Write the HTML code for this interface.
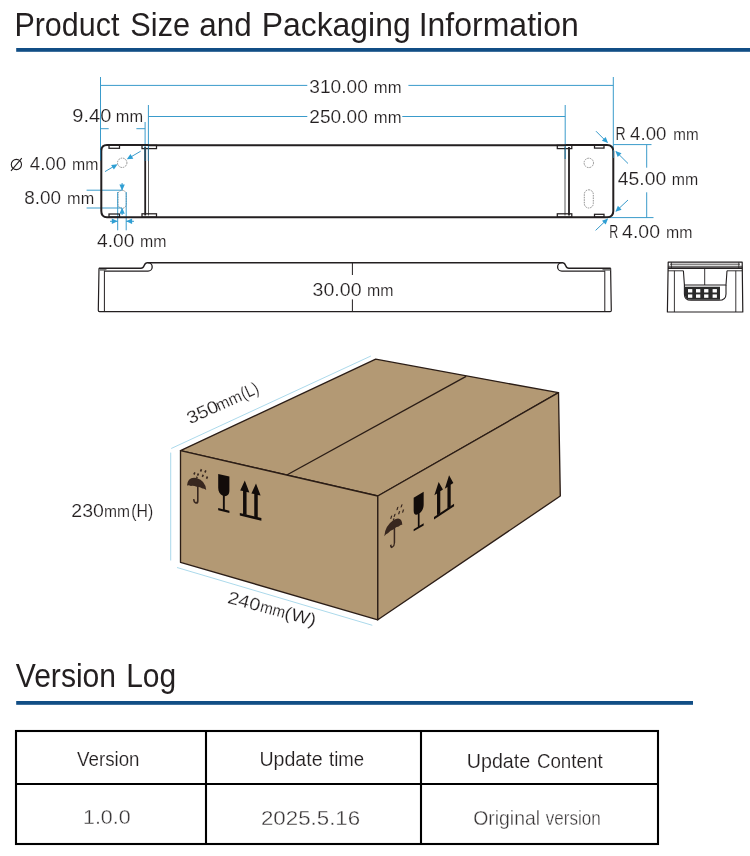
<!DOCTYPE html>
<html>
<head>
<meta charset="utf-8">
<title>Product Size and Packaging Information</title>
<style>
html,body{margin:0;padding:0;background:#fff;}
body{width:750px;height:856px;overflow:hidden;font-family:"Liberation Sans",sans-serif;}
svg{display:block;will-change:transform;}
text{font-family:"Liberation Sans",sans-serif;fill:#231f20;}
.dim{stroke:#3a9bcb;stroke-width:1;fill:none;}
.ah{fill:#2f9fd4;stroke:none;}
.hk{stroke:#231f20;fill:none;}
.thin{stroke:#fff;stroke-width:0.16;}
.h{font-size:33px;}
</style>
</head>
<body>
<svg width="750" height="856" viewBox="0 0 750 856">
<rect width="750" height="856" fill="#fff"/>

<!-- ===== Titles ===== -->
<rect x="16.2" y="48" width="733.8" height="3.8" fill="#114e85"/>

<rect x="16.2" y="701" width="676.8" height="3.8" fill="#114e85"/>

<!-- holes -->
<g fill="none" stroke="#777" stroke-width="0.8" stroke-dasharray="1.6 0.9">
<circle cx="122.2" cy="162.8" r="4.7"/>
<rect x="117.9" y="190.3" width="8.4" height="18" rx="4.2"/>
<circle cx="588.8" cy="162.9" r="4.7"/>
<rect x="584.3" y="189.8" width="9" height="18.2" rx="4.5"/>
</g>
<!-- ===== DIMENSIONS (top view) ===== -->
<g class="dim">
<!-- 310 -->
<path d="M100.5 77 V160.5 M613.3 77 V158 M100.5 85.4 H307.3 M408.4 85.4 H613.3"/>
<!-- 250 -->
<path d="M148.4 105 V161 M565.2 105 V159 M148.4 116.5 H307.3 M402.3 116.5 H565.2"/>
<!-- 9.40 -->
<path d="M145.1 122 V161 M100.5 128.7 H108.7 M136.4 128.7 H145.1"/>
<!-- dia 4 -->
<path d="M105 171.6 L116 165.1 M140.7 151.2 L128.4 158.4"/>
<!-- 8.00 -->
<path d="M86.6 190.2 H122 M86.6 208 H122 M122.1 183 V190 M122.1 208.3 V215"/>
<!-- 4.00 slot -->
<path d="M117.7 192 V230.3 M126.2 192 V230.3 M110 221.3 H117.7 M126.2 221.3 H134"/>
<!-- 45 -->
<path d="M613.3 144.6 H651.5 M607 217.6 H653.5 M646.7 144.6 V167.7 M646.7 192.3 V217.6"/>
<!-- R4 -->
<path d="M596 131.2 L607.2 142.4 M628 163.5 L616 151.6 M628 200 L616 211.2 M595.6 230.4 L607.3 219.2"/>
</g>
<!-- ===== TOP VIEW ===== -->
<g id="topview">
<!-- main body -->
<path class="hk" stroke-width="1.9" d="M148 145.2 H566 M148 217.2 H566"/>
<!-- left cap -->
<path class="hk" stroke-width="2" d="M148 145 H107 Q101.3 145 101.3 151 V211 Q101.3 217.3 107 217.3 H148"/>
<!-- right cap -->
<path class="hk" stroke-width="2" d="M566 145 H607 Q613.3 145 613.3 151.5 V211 Q613.3 217.3 607 217.3 H566"/>
<!-- inner verticals -->
<path class="hk" stroke-width="1.8" d="M145.2 147 V215.5 M569 147 V215.5"/>
<path class="hk" stroke-width="0.9" d="M148.5 147 V215.5 M565 147 V215.5" style="stroke:#4a4a4a"/>
<!-- clips -->
<g class="hk" stroke-width="1.25" fill="#f4f4f4">
<rect x="109" y="145.3" width="10.5" height="3"/>
<rect x="142" y="145.3" width="14.5" height="3.3"/>
<rect x="109" y="214" width="10.5" height="3"/>
<rect x="142" y="213.8" width="14.5" height="3.3"/>
<rect x="557.3" y="145.3" width="14.5" height="3.3"/>
<rect x="594.5" y="145.3" width="9.5" height="2.8"/>
<rect x="557.3" y="213.8" width="14.5" height="3.3"/>
<rect x="594.5" y="214.3" width="9.5" height="2.8"/>
</g>

</g>

<path d="M145.1 146.3 V161 M148.4 146.3 V161 M565.2 146.3 V159 M100.6 150 V160.5 M613.4 150 V158" stroke="#2f86b3" stroke-width="1" fill="none" opacity="0.75"/>
<g class="ah">
<polygon points="117.6,164.2 113.9,169.5 111.1,164.9"/>
<polygon points="126.8,159.3 130.5,154.0 133.3,158.7"/>
<polygon points="122.1,190.4 119.4,184.5 124.8,184.5"/>
<polygon points="122.1,207.8 124.8,213.7 119.4,213.7"/>
<polygon points="117.7,221.3 111.8,224.0 111.8,218.6"/>
<polygon points="126.2,221.3 132.1,218.6 132.1,224.0"/>
<polygon points="608.0,143.0 601.9,140.8 605.7,136.9"/>
<polygon points="615.4,151.0 621.5,153.2 617.7,157.1"/>
<polygon points="615.4,211.8 617.9,205.8 621.6,209.7"/>
<polygon points="608.1,218.6 605.7,224.6 602.0,220.7"/>
</g>

<!-- dimension texts -->

<!-- ===== SIDE VIEW ===== -->
<g class="hk" stroke-width="1.2" stroke-linejoin="round">
<!-- outline -->
<path d="M99 268.3 L98.3 310.6 Q98.3 311.7 99.5 311.7 H610.2 Q611.3 311.7 611.3 310.6 L610.6 268.3"/>
<!-- top profile -->
<path d="M98.9 268.3 H141 C145.1 268.3 143.3 262.7 147.4 262.7 H562.4 C566.5 262.7 564.7 268.3 568.8 268.3 H610.7" stroke-width="1.45"/>
<path d="M104.4 271.1 H148 A4.2 4.2 0 0 0 148 262.7 M604.8 271.1 H561.8 A4.2 4.2 0 0 1 561.8 262.7" stroke-width="1.3"/>
<path d="M104.4 269 V311.7 M604.8 269 V311.7" stroke-width="1"/>
<path d="M352.4 262.7 V275 M352.4 299.4 V311.7" stroke-width="1"/>
<path d="M99.2 269.9 H106.5 M602.5 269.9 H610.4" stroke-width="1.6" style="stroke:#777"/>
</g>

<!-- ===== END VIEW ===== -->
<g class="hk" stroke="#2a2a2a" stroke-width="1" stroke-linejoin="round">
<path d="M668.2 262.2 L667.4 312 H742.8 L742.2 262.2 Z" stroke-width="1.2"/>
<path d="M668.2 266.3 H742.2 M671.4 262.2 V268 M738.8 262.2 V268 M670 264.2 H740" stroke-width="0.8"/>
<path d="M668 268.1 H742.4" stroke-width="1.7"/>
<path d="M668 270.8 H683.4 M727 270.8 H742.4" stroke-width="0.9"/>
<path d="M674.4 270.8 V312 M735.8 270.8 V312" stroke-width="0.9"/>
<path d="M683.4 270.8 L684.4 285 H726 L727 270.8" stroke-width="1.1"/>
<path d="M704.7 269 V285" stroke-width="0.9"/>
<path d="M684.4 285 V294 Q684.4 300.3 691 300.3 H719 Q726 300.3 726 294 V285" stroke-width="1.1"/>
</g>
<path d="M684.6 286.8 H720 V299.8 H691 Q684.6 299.8 684.6 293.5 Z" fill="#2a2a2a"/>
<g fill="#fff">
<rect x="688" y="289.1" width="4.3" height="3.4"/><rect x="688" y="294.4" width="4.3" height="3.4"/>
<rect x="696" y="289.1" width="4.3" height="3.4"/><rect x="696" y="294.4" width="4.3" height="3.4"/>
<rect x="704.1" y="289.1" width="4.3" height="3.4"/><rect x="704.1" y="294.4" width="4.3" height="3.4"/>
<rect x="712.6" y="289.1" width="4.3" height="3.4"/><rect x="712.6" y="294.4" width="4.3" height="3.4"/>
</g>

<!-- ===== BOX ===== -->
<g stroke="#2b1d16" stroke-width="1.35" stroke-linejoin="round" fill="#b39974">
<polygon points="180.5,450.6 375.7,359.2 558.5,392.7 377.8,496" fill="#b39974"/>
<polygon points="180.5,450.6 377.8,496 377.8,619.8 180.5,562.3" fill="#b39974"/>
<polygon points="377.8,496 558.5,392.7 560.3,496 377.8,619.8" fill="#b39974"/>
<path d="M286.8 475 L466.1 376.4" fill="none"/>
</g>
<!-- box dims -->
<g stroke="#86c8e2" stroke-width="0.7" fill="none">
<path d="M171.2 448.5 L370.9 356 M170.7 452.6 V560.5 M177 567.5 L372.3 625.3"/>
</g>

<!-- icons -->
<defs>
<g id="ic-u" fill="#38271f" stroke="none">
    <path d="M0 15.6 Q0.6 6.2 9.5 5.7 Q18.6 6.2 19.2 15.6 Q17.4 14.2 15.4 15 Q12.6 13.6 9.6 14.6 Q6.6 13.6 3.8 15 Q1.8 14.2 0 15.6 Z"/>
    <path d="M10.8 13 V28.2 Q10.8 30.8 8.7 30.8 Q6.9 30.8 6.8 27.6" fill="none" stroke="#38271f" stroke-width="1.6"/>
    <g stroke="#38271f" stroke-width="1.5" fill="none">
      <path d="M7.9 0.5 L6.9 2.9 M11.5 0.8 L10.5 3.2 M14.5 -4.1 L13.5 -1.7 M16.3 0.9 L15.3 3.3 M18.9 -4.1 L17.9 -1.7 M20.5 1.7 L19.5 4.1 M10.2 4.4 L9.6 5.8"/>
    </g>
</g>
<g id="ic-g" fill="#120c0a" stroke="none">
    <path d="M31.2 -3.4 H42.4 V10.4 C42.4 14.6 40.6 16.6 37.8 17.3 V30.7 H42.4 V33 H31.2 V30.7 H35.9 V17.3 C33 16.6 31.2 14.6 31.2 10.4 Z"/>
</g>
<g id="ic-a" fill="#120c0a" stroke="none">
    <path d="M57.8 -3 L62.4 7.9 H59.55 V31 H56.05 V7.9 H53.2 Z"/>
    <path d="M69 -2.8 L73.6 8.3 H70.75 V31 H67.25 V8.3 H64.4 Z"/>
    <rect x="52.8" y="30.6" width="21.6" height="2.6"/>
</g>
</defs>
<g transform="matrix(1,0.235,0,1,187,470)"><use href="#ic-u"/><use href="#ic-g"/><use href="#ic-a"/></g>
<use href="#ic-u" transform="matrix(0.9375,-0.589,0,1.05,384.3,519.8)"/>
<use href="#ic-g" transform="matrix(0.893,-0.52,0,0.925,385.8,517)"/>
<use href="#ic-a" transform="matrix(0.93,-0.61,0,0.95,384.9,520.1)"/>

<!-- ===== TABLE ===== -->
<g fill="none" stroke="#000" stroke-width="2.1">
<rect x="16" y="731" width="642" height="113"/>
<path d="M16 784 H658 M206 731 V844 M421 731 V844"/>
</g>
<g fill="none" stroke="#231f20" stroke-width="1.1"><circle cx="16.4" cy="164.5" r="5.1"/><path d="M11 170.8 L21.8 158.2"/></g>
<!-- ===== TEXT ===== -->
<text x="14.39" y="36" font-size="33" textLength="105.01" lengthAdjust="spacingAndGlyphs">Product</text>
<text x="130.36" y="36" font-size="33" textLength="59.77" lengthAdjust="spacingAndGlyphs">Size</text>
<text x="199.31" y="36" font-size="33" textLength="52.39" lengthAdjust="spacingAndGlyphs">and</text>
<text x="261.70" y="36" font-size="33" textLength="148.98" lengthAdjust="spacingAndGlyphs">Packaging</text>
<text x="418.66" y="36" font-size="33" textLength="160.13" lengthAdjust="spacingAndGlyphs">Information</text>
<text x="15.73" y="687.3" font-size="33" textLength="100.37" lengthAdjust="spacingAndGlyphs">Version</text>
<text x="126.15" y="687.3" font-size="33" textLength="49.99" lengthAdjust="spacingAndGlyphs">Log</text>
<text x="309.27" y="92.9" font-size="17.6" textLength="58.51" lengthAdjust="spacingAndGlyphs" class="thin">310.00</text>
<text x="373.89" y="92.9" font-size="16.2" textLength="27.69" lengthAdjust="spacingAndGlyphs" class="thin">mm</text>
<text x="309.37" y="122.5" font-size="17.6" textLength="58.43" lengthAdjust="spacingAndGlyphs" class="thin">250.00</text>
<text x="373.89" y="122.5" font-size="16.2" textLength="27.69" lengthAdjust="spacingAndGlyphs" class="thin">mm</text>
<text x="72.36" y="122" font-size="17.6" textLength="39.04" lengthAdjust="spacingAndGlyphs" class="thin">9.40</text>
<text x="115.89" y="122" font-size="16.2" textLength="27.27" lengthAdjust="spacingAndGlyphs" class="thin">mm</text>
<text x="29.73" y="170.4" font-size="17.6" textLength="36.45" lengthAdjust="spacingAndGlyphs" class="thin">4.00</text>
<text x="72.01" y="170.4" font-size="16.2" textLength="26.35" lengthAdjust="spacingAndGlyphs" class="thin">mm</text>
<text x="24.25" y="203.8" font-size="17.6" textLength="36.87" lengthAdjust="spacingAndGlyphs" class="thin">8.00</text>
<text x="67.14" y="203.8" font-size="16.2" textLength="27.04" lengthAdjust="spacingAndGlyphs" class="thin">mm</text>
<text x="97.10" y="247" font-size="17.6" textLength="37.32" lengthAdjust="spacingAndGlyphs" class="thin">4.00</text>
<text x="140.07" y="247" font-size="16.2" textLength="26.43" lengthAdjust="spacingAndGlyphs" class="thin">mm</text>
<text x="615.53" y="139.6" font-size="17.6" textLength="10.15" lengthAdjust="spacingAndGlyphs" class="thin">R</text>
<text x="630.14" y="139.6" font-size="17.6" textLength="36.32" lengthAdjust="spacingAndGlyphs" class="thin">4.00</text>
<text x="673.25" y="139.6" font-size="16.2" textLength="25.32" lengthAdjust="spacingAndGlyphs" class="thin">mm</text>
<text x="617.86" y="184.8" font-size="17.6" textLength="48.31" lengthAdjust="spacingAndGlyphs" class="thin">45.00</text>
<text x="671.84" y="184.8" font-size="16.2" textLength="26.44" lengthAdjust="spacingAndGlyphs" class="thin">mm</text>
<text x="609.31" y="238.4" font-size="17.6" textLength="8.99" lengthAdjust="spacingAndGlyphs" class="thin">R</text>
<text x="622.09" y="238.4" font-size="17.6" textLength="37.92" lengthAdjust="spacingAndGlyphs" class="thin">4.00</text>
<text x="665.93" y="238.4" font-size="16.2" textLength="26.44" lengthAdjust="spacingAndGlyphs" class="thin">mm</text>
<text x="312.64" y="296" font-size="17.6" textLength="48.92" lengthAdjust="spacingAndGlyphs" class="thin">30.00</text>
<text x="367.07" y="296" font-size="16.2" textLength="26.43" lengthAdjust="spacingAndGlyphs" class="thin">mm</text>
<text x="71.32" y="517" font-size="17.6" textLength="32.56" lengthAdjust="spacingAndGlyphs" class="thin">230</text>
<text x="103.90" y="517" font-size="16.2" textLength="26.00" lengthAdjust="spacingAndGlyphs" class="thin">mm</text>
<text x="131.34" y="517" font-size="17.6" textLength="21.87" lengthAdjust="spacingAndGlyphs" class="thin">(H)</text>
<text x="77.03" y="765.8" font-size="19.6" textLength="62.48" lengthAdjust="spacingAndGlyphs" class="thin">Version</text>
<text x="259.42" y="765.8" font-size="19.8" textLength="63.22" lengthAdjust="spacingAndGlyphs" class="thin">Update</text>
<text x="328.98" y="765.8" font-size="19.8" textLength="35.13" lengthAdjust="spacingAndGlyphs" class="thin">time</text>
<text x="466.75" y="767.7" font-size="19.8" textLength="63.46" lengthAdjust="spacingAndGlyphs" class="thin">Update</text>
<text x="536.89" y="767.7" font-size="19.8" textLength="65.75" lengthAdjust="spacingAndGlyphs" class="thin">Content</text>
<text x="82.99" y="823.8" font-size="20.2" textLength="47.60" lengthAdjust="spacingAndGlyphs" style="fill:#383536;stroke:#fff;stroke-width:0.34">1.0.0</text>
<text x="260.93" y="824.8" font-size="20.2" textLength="99.21" lengthAdjust="spacingAndGlyphs" style="fill:#383536;stroke:#fff;stroke-width:0.34">2025.5.16</text>
<text x="473.15" y="824.5" font-size="19.8" textLength="66.95" lengthAdjust="spacingAndGlyphs" style="fill:#383536;stroke:#fff;stroke-width:0.34">Original</text>
<text x="545.78" y="824.5" font-size="19.8" textLength="54.92" lengthAdjust="spacingAndGlyphs" style="fill:#383536;stroke:#fff;stroke-width:0.34">version</text>
<g transform="translate(188.6,425.1) rotate(-24.6)">
<text x="1.60" y="0" font-size="17.6" textLength="33.11" lengthAdjust="spacingAndGlyphs" class="thin">350</text>
<text x="33.25" y="0" font-size="16.2" textLength="26.86" lengthAdjust="spacingAndGlyphs" class="thin">mm</text>
<text x="60.76" y="0" font-size="17.6" textLength="17.92" lengthAdjust="spacingAndGlyphs" class="thin">(L)</text>
</g>
<g transform="translate(228.1,603.1) rotate(15)">
<text x="-1.44" y="0" font-size="17.6" textLength="33.02" lengthAdjust="spacingAndGlyphs" class="thin">240</text>
<text x="32.25" y="0" font-size="16.2" textLength="25.32" lengthAdjust="spacingAndGlyphs" class="thin">mm</text>
<text x="57.46" y="0" font-size="17.6" textLength="31.99" lengthAdjust="spacingAndGlyphs" class="thin">(W)</text>
</g>
</svg>
</body>
</html>
